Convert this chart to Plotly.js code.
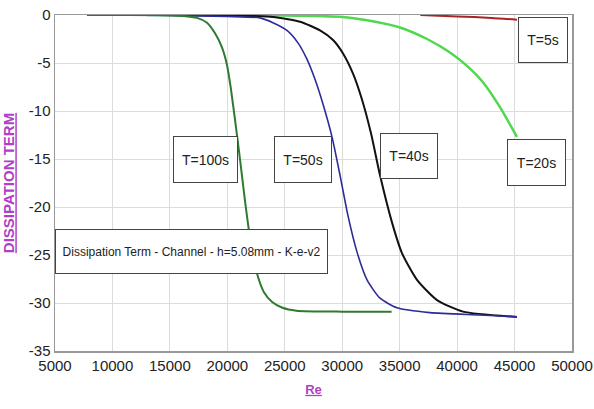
<!DOCTYPE html>
<html><head><meta charset="utf-8">
<script src="https://cdn.plot.ly/plotly-3.0.1.min.js"></script>
<style>html,body{margin:0;padding:0;background:#fff}#chart{width:594px;height:409px}</style>
</head><body><div id="chart"></div>
<script>
// T=100s
const re100 = [7800, 14000, 16140, 17360, 18230, 18930, 19540, 19970, 20300, 20700, 21100, 21500, 21900, 22300, 22700, 23200, 23900, 24800, 26000, 30000, 34300];
const v100  = [0, 0, -0.1, -0.3, -0.8, -1.9, -3.4, -5.2, -7.6, -11.2, -15, -19, -22.6, -25.4, -27.4, -28.9, -29.9, -30.5, -30.8, -30.9, -30.9];
// T=50s
const re50 = [7800, 15000, 20000, 22840, 23970, 25190, 26150, 26930, 27630, 28330, 29110, 29810, 30500, 31290, 32160, 33290, 34770, 37640, 41990, 45210];
const v50  = [0, -0.05, -0.15, -0.3, -0.8, -1.6, -2.9, -4.6, -6.7, -9.3, -12.7, -16.7, -20.9, -24.7, -27.6, -29.5, -30.5, -31.0, -31.25, -31.45];
// T=40s
const re40 = [7800, 15000, 22000, 23975, 26325, 28065, 29200, 30070, 30940, 31720, 32500, 33290, 34330, 35200, 36510, 38250, 40510, 45210];
const v40  = [0, 0, -0.1, -0.2, -0.7, -1.6, -2.6, -4, -6.1, -8.8, -12.3, -16.7, -21.6, -24.8, -27.6, -29.7, -30.9, -31.45];
// T=20s
const re20 = [13000, 25000, 30000, 32160, 35030, 37380, 39380, 40860, 42250, 43730, 45210];
const v20  = [0, -0.05, -0.2, -0.55, -1.3, -2.5, -3.9, -5.3, -7.0, -9.6, -12.7];
// T=5s
const re5 = [36800, 40000, 43000, 45210];
const v5  = [0, -0.15, -0.3, -0.5];

const xTicks = [5000, 10000, 15000, 20000, 25000, 30000, 35000, 40000, 45000, 50000];
const yTicks = [0, -5, -10, -15, -20, -25, -30, -35];

const labels = ["T=5s", "T=20s", "T=40s", "T=50s", "T=100s"];
const chartTitle = "Dissipation Term - Channel - h=5.08mm - K-e-v2";

const FONT = "Liberation Sans, Arial, sans-serif";

const sp = {shape: 'spline', smoothing: 0.6};
const traces = [
  {x: re20, y: v20, mode: 'lines', line: Object.assign({color: '#4fd84f', width: 2.5}, sp)},
  {x: re5, y: v5, mode: 'lines', line: Object.assign({color: '#a82424', width: 2}, sp)},
  {x: re40, y: v40, mode: 'lines', line: Object.assign({color: '#111111', width: 2}, sp)},
  {x: re50, y: v50, mode: 'lines', line: Object.assign({color: '#2c2c98', width: 1.6}, sp)},
  {x: re100, y: v100, mode: 'lines', line: Object.assign({color: '#2e7a30', width: 2}, sp)}
];

function box(text, x, y, w, h, size) {
  return {text: text, x: x, y: y, xref: 'x', yref: 'y', showarrow: false,
    width: w, height: h, bgcolor: '#ffffff', bordercolor: '#444', borderwidth: 1, borderpad: 0,
    font: {family: FONT, size: size || 14, color: '#222'}, align: 'center', valign: 'middle'};
}

const layout = {
  width: 594, height: 409,
  margin: {l: 55, r: 22, t: 15, b: 58},
  paper_bgcolor: '#fff', plot_bgcolor: '#fff',
  showlegend: false,
  font: {family: FONT, color: '#222'},
  xaxis: {range: [5000, 50000], tickvals: xTicks, ticktext: xTicks.map(String),
    showgrid: true, gridcolor: '#dcdcdc', gridwidth: 1, zeroline: false,
    showline: true, linecolor: '#999', linewidth: 1.5, mirror: true, ticks: '',
    tickfont: {family: FONT, size: 15, color: '#222'},
    title: {text: '<b><u>Re</u></b>', font: {family: FONT, size: 13, color: '#b040c8'}, standoff: 12}},
  yaxis: {range: [-35, 0], tickvals: yTicks, ticktext: yTicks.map(String),
    showgrid: true, gridcolor: '#dcdcdc', gridwidth: 1, zeroline: false,
    showline: true, linecolor: '#999', linewidth: 1.5, mirror: true, ticks: '',
    tickfont: {family: FONT, size: 15, color: '#222'},
    title: {text: '<b><u>DISSIPATION TERM</u></b>', font: {family: FONT, size: 15, color: '#b040c8'}, standoff: 10}},
  annotations: [
    box(labels[0], 47476, -2.6, 48, 44),
    box(labels[1], 46953, -15.4, 57, 45),
    box(labels[2], 35812, -14.7, 56, 44),
    box(labels[3], 26586, -15.0, 56, 45),
    box(labels[4], 18056, -15.0, 63, 45),
    box(chartTitle, 16881, -24.6, 271, 43, 12)
  ]
};

Plotly.newPlot('chart', traces, layout, {displayModeBar: false, staticPlot: true});
</script></body></html>
